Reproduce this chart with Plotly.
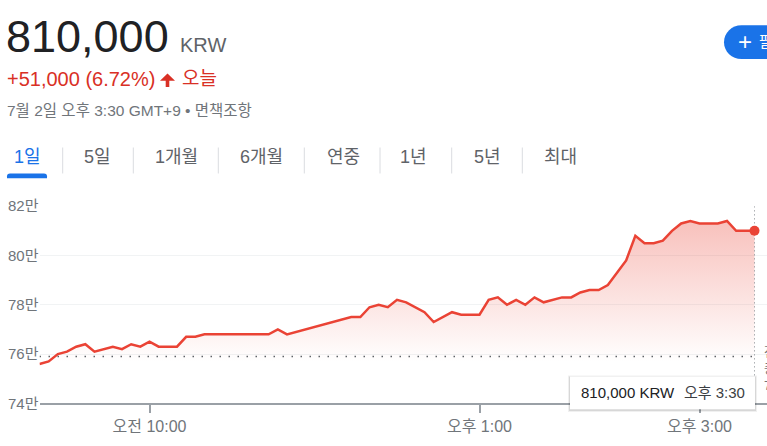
import plotly.graph_objects as go

# 데이터
day = "2024-07-02 "
times = ["09:00", "09:05", "09:10", "09:15", "09:20", "09:25", "09:30", "09:35",
         "09:40", "09:45", "09:50", "09:55", "10:00", "10:05", "10:10", "10:15",
         "10:20", "10:25", "10:30", "10:35", "10:40", "10:45", "10:50", "10:55",
         "11:00", "11:05", "11:10", "11:15", "11:50", "11:55", "12:00", "12:05",
         "12:10", "12:15", "12:20", "12:25", "12:30", "12:35", "12:40", "12:45",
         "12:50", "12:55", "13:00", "13:05", "13:10", "13:15", "13:20", "13:25",
         "13:30", "13:35", "13:40", "13:45", "13:50", "13:55", "14:00", "14:05",
         "14:10", "14:15", "14:20", "14:25", "14:30", "14:35", "14:40", "14:45",
         "14:50", "14:55", "15:00", "15:05", "15:10", "15:15", "15:20", "15:25",
         "15:30"]
prices = [756000, 757000, 760000, 761000, 763000, 764000, 761000, 762000,
          763000, 762000, 764000, 763000, 765000, 763000, 763000, 763000,
          767000, 767000, 768000, 768000, 768000, 768000, 768000, 768000,
          768000, 768000, 770000, 768000, 775000, 775000, 779000, 780000,
          779000, 782000, 781000, 779000, 777000, 773000, 775000, 777000,
          776000, 776000, 776000, 782000, 783000, 780000, 782000, 780000,
          783000, 781000, 782000, 783000, 783000, 785000, 786000, 786000,
          788000, 793000, 798000, 808000, 805000, 805000, 806000, 810000,
          813000, 814000, 813000, 813000, 813000, 814000, 810000, 810000,
          810000]
prev_close = 759000
y_ticks = [740000, 760000, 780000, 800000, 820000]
y_labels = ["74만", "76만", "78만", "80만", "82만"]
x_ticks = ["10:00", "13:00", "15:00"]
x_labels = ["오전 10:00", "오후 1:00", "오후 3:00"]
tabs = ["1일", "5일", "1개월", "6개월", "연중", "1년", "5년", "최대"]

x = [day + t for t in times]

FONT = "Arial, 'Liberation Sans', 'Noto Sans CJK KR', sans-serif"
RED = "#ea4335"
GRAY = "#70757a"
W, H = 767, 446


def px(v):
    return v / W


def py(v):
    return 1 - v / H


fig = go.Figure()

# 가격선 + 그라데이션 채우기
fig.add_trace(go.Scatter(
    x=x, y=prices, mode="lines",
    line=dict(color=RED, width=2.5),
    fill="tozeroy",
    fillgradient=dict(type="vertical", start=prev_close, stop=max(prices),
                      colorscale=[[0, "rgba(234,67,53,0)"], [1, "rgba(234,67,53,0.33)"]]),
    hoverinfo="skip",
))

# 전일 종가 점선
fig.add_trace(go.Scatter(
    x=[x[0], x[-1]], y=[prev_close, prev_close], mode="lines",
    line=dict(color="#5f6368", width=1.5, dash="1.5px,7.5px"),
    hoverinfo="skip",
))

# 마지막 시점 세로 점선
fig.add_trace(go.Scatter(
    x=[x[-1], x[-1]], y=[y_ticks[0], y_ticks[-1]], mode="lines",
    line=dict(color="#80868b", width=1, dash="1px,3px"),
    hoverinfo="skip",
))

# 마지막 점
fig.add_trace(go.Scatter(
    x=[x[-1]], y=[prices[-1]], mode="markers",
    marker=dict(color=RED, size=10),
    hoverinfo="skip",
))

fig.update_xaxes(
    type="date",
    domain=[px(39.5), 1],
    range=[day + "09:00:00", day + "15:36:49"],
    tickvals=[day + t for t in x_ticks], ticktext=x_labels,
    showgrid=False, showline=True, linecolor="#9aa0a6", linewidth=1.5,
    ticks="outside", ticklen=8, tickwidth=1.5, tickcolor="#9aa0a6",
    tickfont=dict(family=FONT, size=16, color=GRAY),
    zeroline=False, fixedrange=True,
)
fig.update_yaxes(
    domain=[py(410), py(205)],
    range=[y_ticks[0], y_ticks[-1]],
    tickvals=y_ticks, ticktext=y_labels,
    showgrid=True, gridcolor="#f1f3f4", gridwidth=1,
    showline=False, ticks="", zeroline=False,
    tickfont=dict(family=FONT, size=15, color=GRAY),
    fixedrange=True,
)

shapes = []
annotations = []


def text(t, x0, y0, size, color, anchor="left", **kw):
    annotations.append(dict(
        text=t, x=px(x0), y=py(y0), xref="paper", yref="paper",
        xanchor=anchor, yanchor="middle", showarrow=False,
        font=dict(family=FONT, size=size, color=color), **kw))


# 머리글
text("810,000", 4, 29, 45, "#202124")
text("KRW", 178, 37, 20, "#5f6368")
text("+51,000 (6.72%)", 5, 73, 20, "#d93025")
shapes.append(dict(
    type="path", xref="paper", yref="paper",
    path=(f"M {px(160)} {py(74.5)} L {px(167.5)} {py(67)} L {px(175)} {py(74.5)} "
          f"L {px(169.3)} {py(74.5)} L {px(169.3)} {py(81)} L {px(165.7)} {py(81)} "
          f"L {px(165.7)} {py(74.5)} Z"),
    fillcolor="#d93025", line=dict(width=0)))
text("오늘", 180, 72, 19, "#d93025")
text("7월 2일 오후 3:30 GMT+9 • 면책조항", 5, 106, 15.5, GRAY)

# 탭
tab_centers = [27, 97, 176, 261, 343, 414, 487, 560]
for lbl, cx in zip(tabs, tab_centers):
    text(lbl, cx, 154, 18, "#1a73e8" if lbl == "1일" else "#5f6368", anchor="center")
for sx in [62.7, 133.3, 218.3, 304.3, 380, 451.7, 522.3]:
    shapes.append(dict(type="line", xref="paper", yref="paper",
                       x0=px(sx), x1=px(sx), y0=py(144), y1=py(171),
                       line=dict(color="#dadce0", width=1)))
# 선택 탭 밑줄
shapes.append(dict(
    type="path", xref="paper", yref="paper",
    path=(f"M {px(7)} {py(176)} L {px(7)} {py(174)} Q {px(7)} {py(171)} {px(10)} {py(171)} "
          f"L {px(44)} {py(171)} Q {px(47)} {py(171)} {px(47)} {py(174)} L {px(47)} {py(176)} Z"),
    fillcolor="#1a73e8", line=dict(width=0)))

# 팔로우 버튼 (잘림)
shapes.append(dict(
    type="path", xref="paper", yref="paper",
    path=(f"M {px(741.5)} {py(17)} L {px(800)} {py(17)} L {px(800)} {py(52)} L {px(741.5)} {py(52)} "
          f"C {px(731.8)} {py(52)} {px(724)} {py(44.2)} {px(724)} {py(34.5)} "
          f"C {px(724)} {py(24.8)} {px(731.8)} {py(17)} {px(741.5)} {py(17)} Z"),
    fillcolor="#1a73e8", line=dict(width=0)))
text("+", 745, 34, 24, "white", anchor="center")
text("팔로우", 757, 34, 15, "white")

# 툴팁
for d, a in [(2, 0.06), (1, 0.10)]:
    shapes.append(dict(type="rect", xref="paper", yref="paper", layer="above",
                       x0=px(570 - d), x1=px(755 + d), y0=py(382 - d + 1), y1=py(416 + d + 1),
                       fillcolor=f"rgba(0,0,0,{a})", line=dict(width=0)))
shapes.append(dict(type="rect", xref="paper", yref="paper", layer="above",
                   x0=px(570), x1=px(755), y0=py(382), y1=py(416),
                   fillcolor="white", line=dict(width=0)))
text("810,000 KRW", 579, 399, 15, "#202124")
text("오후 3:30", 682, 399, 15, "#3c4043")

# 전일 종가 라벨 (오른쪽 잘림)
text("전일<br>종가<br>75.9만", 762, 374, 13, GRAY, align="left")

fig.update_layout(
    width=W, height=H,
    margin=dict(l=0, r=0, t=0, b=0),
    paper_bgcolor="white", plot_bgcolor="white",
    showlegend=False,
    shapes=shapes, annotations=annotations,
)

fig.write_html("out.html", config={"displayModeBar": False},
               post_script="document.body.style.margin='0';document.body.style.overflow='hidden';")
